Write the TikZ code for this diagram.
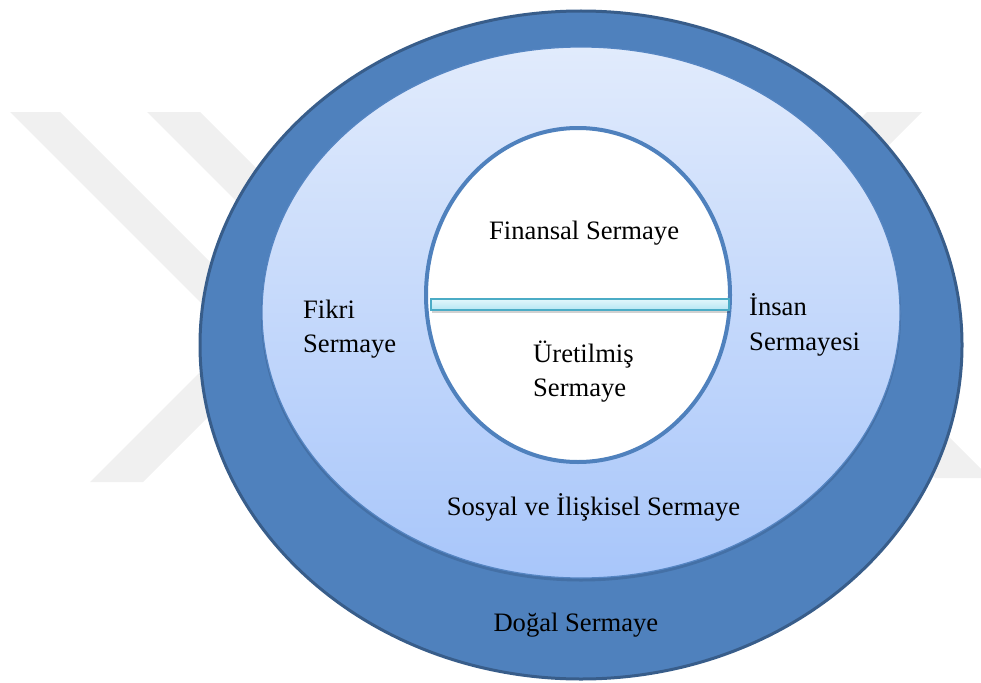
\documentclass[tikz,border=0pt]{standalone}
\usepackage{fontspec}
\setmainfont{Liberation Serif}
\usetikzlibrary{shapes.geometric}
\definecolor{outerfill}{HTML}{4F81BD}
\definecolor{outerline}{HTML}{385D8A}
\definecolor{midtop}{HTML}{E1EBFC}
\definecolor{midbot}{HTML}{A8C6FA}
\definecolor{midline}{HTML}{5585C2}
\definecolor{innerline}{HTML}{4F81BD}
\definecolor{wm}{HTML}{F0F0F0}
\definecolor{barline}{HTML}{4BACC6}
\definecolor{bartop}{HTML}{E2F6FB}
\definecolor{barbot}{HTML}{B5E6F3}
\begin{document}
\begin{tikzpicture}[x=1pt,y=-1pt,
  wmark/.style={fill=wm,draw=none},
  ring/.style={ellipse,inner sep=0pt},
  lbl/.style={font=\fontsize{26.6}{34.4}\selectfont,inner sep=0pt,text=black,align=left,anchor=base west}]
\useasboundingbox (0,0) rectangle (981,682);
% watermark
\fill[wmark] (10,112) -- (60,112) -- (360,412) -- (310,412) -- cycle;
\fill[wmark] (147,112) -- (200,112) -- (400,312) -- (347,312) -- cycle;
\fill[wmark] (90,482) -- (143,482) -- (343,282) -- (290,282) -- cycle;
\fill[wmark] (867,112) -- (922,112) -- (722,312) -- (667,312) -- cycle;
\fill[wmark] (935,478) -- (990,478) -- (790,278) -- (735,278) -- cycle;
% rings
\node[ring,minimum width=762pt,minimum height=668pt,fill=outerfill,draw=outerline,line width=3pt] (outer) at (581,345) {};
\node[ring,minimum width=640pt,minimum height=533pt,fill=outerline,opacity=0.45] (midshadow) at (581,315) {};
\node[ring,minimum width=638pt,minimum height=531pt,top color=midtop,bottom color=midbot,draw=midline,line width=1.2pt] (middle) at (581,312.5) {};
\node[ring,minimum width=304pt,minimum height=334pt,fill=white,draw=innerline,line width=4pt] (inner) at (578,295) {};
% bar
\node[rectangle,minimum width=298pt,minimum height=11pt,inner sep=0pt,fill=black,opacity=0.18] (barshadow) at (581,307) {};
\node[rectangle,minimum width=298pt,minimum height=11pt,inner sep=0pt,top color=bartop,bottom color=barbot,draw=barline,line width=1.5pt] (bar) at (580,304.5) {};
% labels (base anchor of a multi-line node is the last line's baseline)
\node[lbl] (fin) at (489,239) {Finansal Sermaye};
\node[lbl] (ure) at (533,396.7) {Üretilmiş\\Sermaye};
\node[lbl] (fik) at (303,352.7) {Fikri\\Sermaye};
\node[lbl] (ins) at (749,350) {İnsan\\Sermayesi};
\node[lbl] (sos) at (446.7,515) {Sosyal ve İlişkisel Sermaye};
\node[lbl] (dog) at (493.3,631.7) {Doğal Sermaye};
\end{tikzpicture}
\end{document}
